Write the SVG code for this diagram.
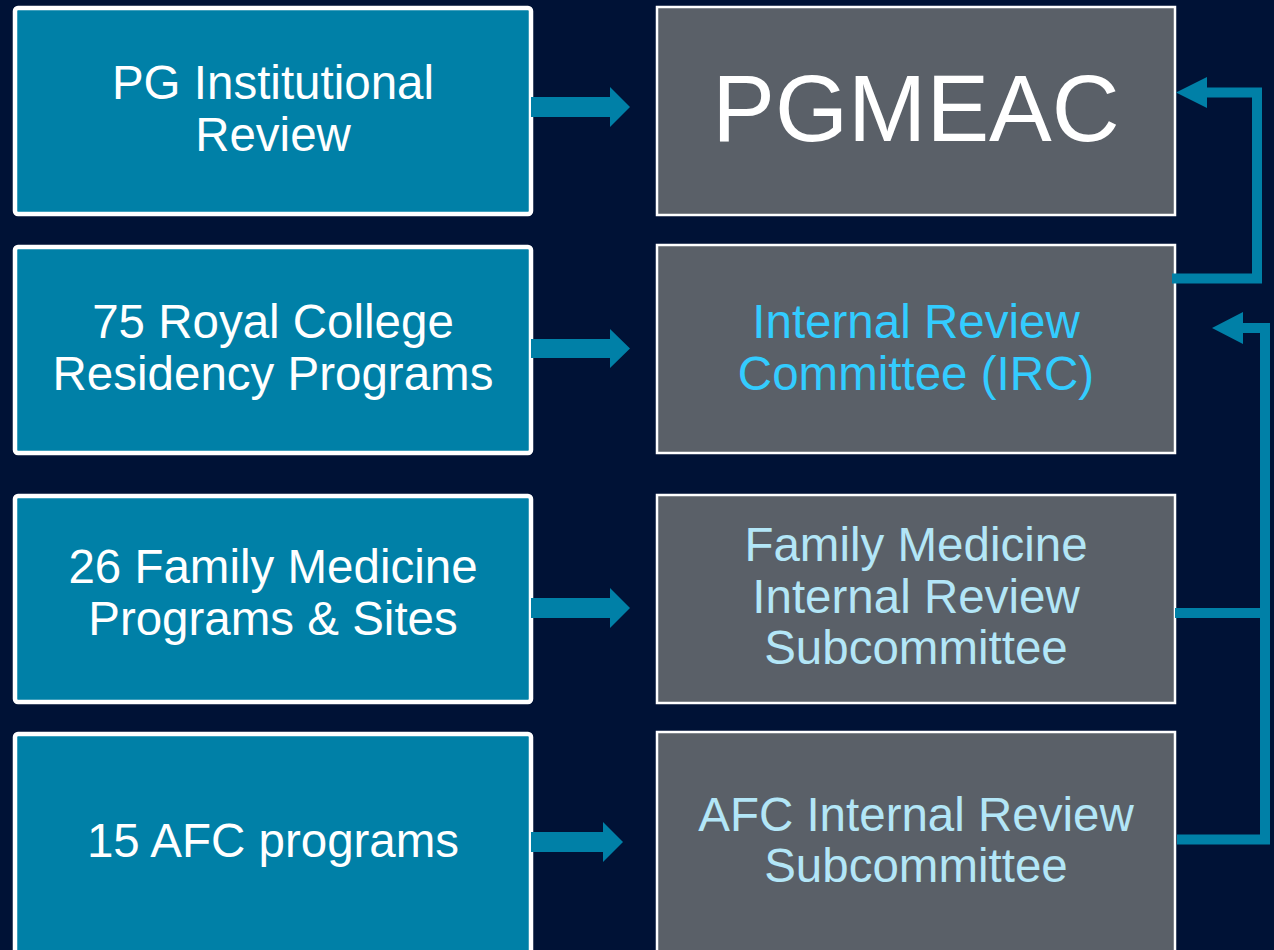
<svg xmlns="http://www.w3.org/2000/svg" width="1274" height="950" viewBox="0 0 1274 950">
<style>
.lbox{fill:#0080A7;stroke:#FFFFFF;stroke-width:4.5}
.rbox{fill:#5A6068;stroke:#FFFFFF;stroke-width:2.5}
text{font-family:"Liberation Sans",Arial,sans-serif;text-anchor:middle}
.lt{fill:#FFFFFF;font-size:47.5px}
.big{fill:#FFFFFF;font-size:94px}
.irc{fill:#33CCFF;font-size:47.5px}
.sub{fill:#B3E6F7;font-size:47.5px}
.conn{fill:none;stroke:#0080A7;stroke-width:10}
.ah{fill:#0080A7}
</style>
<rect x="0" y="0" width="1274" height="950" fill="#001236"/>
<g id="n-pg-institutional">
<rect class="lbox" x="15" y="8" width="516" height="206" rx="3"/>
<text class="lt" x="273" y="99">PG Institutional</text>
<text class="lt" x="273" y="150.5">Review</text>
</g>
<g id="n-royal-college">
<rect class="lbox" x="15" y="247" width="516" height="206" rx="3"/>
<text class="lt" x="273" y="338">75 Royal College</text>
<text class="lt" x="273" y="389.5">Residency Programs</text>
</g>
<g id="n-family-programs">
<rect class="lbox" x="15" y="496" width="516" height="206" rx="3"/>
<text class="lt" x="273" y="583">26 Family Medicine</text>
<text class="lt" x="273" y="634.5">Programs &amp; Sites</text>
</g>
<g id="n-afc-programs">
<rect class="lbox" x="15" y="734" width="516" height="240" rx="3"/>
<text class="lt" x="273" y="857">15 AFC programs</text>
</g>
<g id="n-pgmeac">
<rect class="rbox" x="657" y="7" width="518" height="208"/>
<text class="big" x="916" y="141">PGMEAC</text>
</g>
<g id="n-irc">
<rect class="rbox" x="657" y="245" width="518" height="208"/>
<text class="irc" x="916" y="338">Internal Review</text>
<text class="irc" x="916" y="389.5">Committee (IRC)</text>
</g>
<g id="n-family-sub">
<rect class="rbox" x="657" y="495" width="518" height="208"/>
<text class="sub" x="916" y="561">Family Medicine</text>
<text class="sub" x="916" y="612.5">Internal Review</text>
<text class="sub" x="916" y="664">Subcommittee</text>
</g>
<g id="n-afc-sub">
<rect class="rbox" x="657" y="732" width="518" height="240"/>
<text class="sub" x="916" y="831">AFC Internal Review</text>
<text class="sub" x="916" y="882">Subcommittee</text>
</g>
<g id="connectors">
<polygon class="ah" points="531,97 610,97 610,87 630,107 610,127 610,117 531,117"/>
<polygon class="ah" points="531,339 610,339 610,329 630,348.5 610,368 610,358 531,358"/>
<polygon class="ah" points="531,598 610,598 610,588 630,608 610,628 610,618 531,618"/>
<polygon class="ah" points="531,832 603,832 603,822 623,842 603,862 603,852 531,852"/>
<path class="conn" d="M1172,278.5 H1257 V92.5 H1205"/>
<polygon class="ah" points="1176,92.5 1207,77 1207,108"/>
<path class="conn" d="M1177,839.5 H1265 V328 H1241"/>
<path class="conn" d="M1175,613 H1265"/>
<polygon class="ah" points="1212,328 1243,312 1243,344"/>
</g>
</svg>
